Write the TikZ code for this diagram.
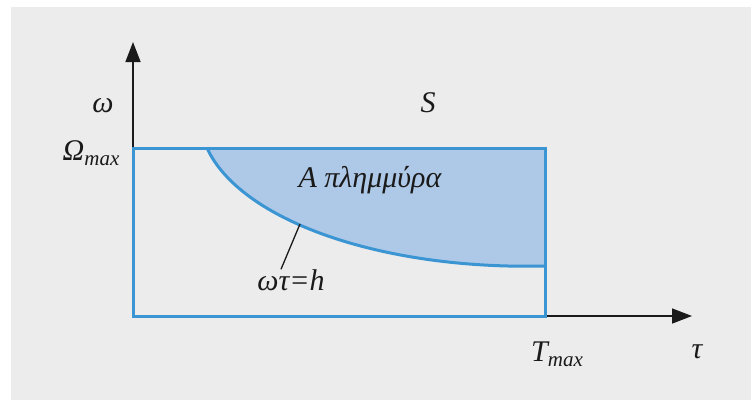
\documentclass[tikz,border=0pt]{standalone}
\usepackage{fontspec}
\newfontfamily\tms{Liberation Serif}
\usetikzlibrary{arrows.meta}
\definecolor{bg}{HTML}{ECECEC}
\definecolor{bline}{HTML}{3A95D2}
\definecolor{bfill}{HTML}{AEC9E8}
\definecolor{ink}{HTML}{1A1A1A}
\tikzset{
  lbl/.style={font=\tms\itshape\fontsize{30}{32}\selectfont, text=ink, inner sep=0pt},
  axis/.style={draw=ink, line width=1.6pt, -{Triangle[length=20pt,width=15pt]}},
  boxline/.style={draw=bline, line width=3pt},
}
\newcommand{\sbx}[1]{\raisebox{-0.35ex}{\fontsize{21}{23}\selectfont #1}}
\begin{document}
\begin{tikzpicture}[x=1pt,y=-1pt]
\useasboundingbox (0,0) rectangle (751,400);
\fill[white] (0,0) rectangle (751,400);
\fill[bg] (11,7) rectangle (751,400);
% axes
\coordinate (o) at (133,316);
\coordinate (ytip) at (133,42);
\coordinate (xtip) at (692,316);
\draw[axis] (o) -- (ytip);
\draw[axis] (545,316) -- (xtip);
% filled region
\coordinate (c0) at (207,148);
\coordinate (c3) at (545,266);
\fill[bfill] (c0) .. controls (240,220) and (380,270) .. (c3) -- (545,148) -- cycle;
\draw[boxline] (c0) .. controls (240,220) and (380,270) .. (c3);
\draw[boxline, line join=miter] (133,148) rectangle (545,316);
\coordinate (lp) at (300,224);
% labels
\node[lbl] (w) at (103,106) {ω};
\node[lbl] (om) at (91,153) {Ω\sbx{max}};
\node[lbl] (S) at (428,103) {S};
\node[lbl] (A) at (370,180) {A πλημμύρα};
\node[lbl] (h) at (291,280) {ωτ=h};
\node[lbl] (T) at (557,354) {T\sbx{max}};
\node[lbl] (tau) at (697,352) {τ};
\draw[ink, line width=1.3pt] (lp) -- (h.north -| 281,0);
\end{tikzpicture}
\end{document}
